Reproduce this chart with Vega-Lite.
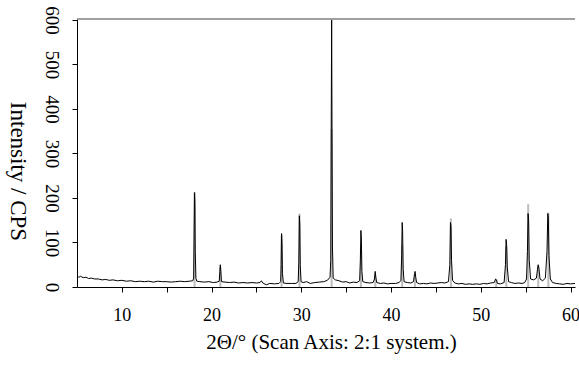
{
  "$schema": "https://vega.github.io/schema/vega-lite/v6.json",
  "width": 498,
  "height": 268,
  "autosize": "none",
  "padding": {"left": 77, "top": 19, "right": 4, "bottom": 78},
  "background": "white",
  "config": {
    "view": {"stroke": null},
    "font": "Liberation Serif",
    "axis": {"grid": false, "domainColor": "black", "tickColor": "black", "labelColor": "black", "titleColor": "black", "labelFont": "Liberation Serif", "titleFont": "Liberation Serif", "titleFontWeight": "normal"}
  },
  "datasets": {
    "scan": [
      {"t": 5.0, "cps": 25}, {"t": 5.2, "cps": 22}, {"t": 5.4, "cps": 24}, {"t": 5.7, "cps": 21}, {"t": 6.0, "cps": 22},
      {"t": 6.3, "cps": 19}, {"t": 6.6, "cps": 20}, {"t": 7.0, "cps": 18}, {"t": 7.4, "cps": 18}, {"t": 7.8, "cps": 16},
      {"t": 8.2, "cps": 17}, {"t": 8.6, "cps": 15}, {"t": 9.0, "cps": 16}, {"t": 9.5, "cps": 14}, {"t": 10.0, "cps": 15},
      {"t": 10.5, "cps": 13}, {"t": 11.0, "cps": 14}, {"t": 11.5, "cps": 12}, {"t": 12.0, "cps": 13}, {"t": 12.5, "cps": 12},
      {"t": 13.0, "cps": 13}, {"t": 13.5, "cps": 11}, {"t": 14.0, "cps": 13}, {"t": 14.5, "cps": 12}, {"t": 15.0, "cps": 12},
      {"t": 15.5, "cps": 11}, {"t": 16.0, "cps": 12}, {"t": 16.5, "cps": 13}, {"t": 17.0, "cps": 12}, {"t": 17.5, "cps": 13},
      {"t": 17.9, "cps": 14}, {"t": 18.0, "cps": 20}, {"t": 18.05, "cps": 120}, {"t": 18.1, "cps": 212}, {"t": 18.14, "cps": 190},
      {"t": 18.18, "cps": 80}, {"t": 18.25, "cps": 20}, {"t": 18.35, "cps": 13}, {"t": 18.7, "cps": 12}, {"t": 19.2, "cps": 11},
      {"t": 19.7, "cps": 12}, {"t": 20.2, "cps": 10}, {"t": 20.6, "cps": 11}, {"t": 20.85, "cps": 13}, {"t": 20.92, "cps": 35},
      {"t": 20.97, "cps": 50}, {"t": 21.02, "cps": 38}, {"t": 21.1, "cps": 12}, {"t": 21.5, "cps": 11}, {"t": 22.0, "cps": 10},
      {"t": 22.5, "cps": 11}, {"t": 23.0, "cps": 9}, {"t": 23.5, "cps": 10}, {"t": 24.0, "cps": 9}, {"t": 24.5, "cps": 10},
      {"t": 25.0, "cps": 9}, {"t": 25.4, "cps": 10}, {"t": 25.55, "cps": 14}, {"t": 25.7, "cps": 9}, {"t": 26.1, "cps": 5},
      {"t": 26.5, "cps": 8}, {"t": 27.0, "cps": 7}, {"t": 27.5, "cps": 8}, {"t": 27.7, "cps": 12}, {"t": 27.75, "cps": 50},
      {"t": 27.8, "cps": 120}, {"t": 27.85, "cps": 95}, {"t": 27.9, "cps": 30}, {"t": 28.0, "cps": 9}, {"t": 28.4, "cps": 8},
      {"t": 28.9, "cps": 8}, {"t": 29.4, "cps": 8}, {"t": 29.65, "cps": 12}, {"t": 29.72, "cps": 55}, {"t": 29.78, "cps": 160},
      {"t": 29.83, "cps": 140}, {"t": 29.88, "cps": 50}, {"t": 29.97, "cps": 12}, {"t": 30.2, "cps": 10}, {"t": 30.6, "cps": 12},
      {"t": 31.0, "cps": 8}, {"t": 31.5, "cps": 10}, {"t": 32.0, "cps": 11}, {"t": 32.5, "cps": 12}, {"t": 32.9, "cps": 15},
      {"t": 33.2, "cps": 22}, {"t": 33.28, "cps": 60}, {"t": 33.33, "cps": 355}, {"t": 33.38, "cps": 600}, {"t": 33.42, "cps": 355},
      {"t": 33.47, "cps": 90}, {"t": 33.55, "cps": 20}, {"t": 33.8, "cps": 16}, {"t": 34.2, "cps": 14}, {"t": 34.6, "cps": 11},
      {"t": 35.0, "cps": 12}, {"t": 35.4, "cps": 9}, {"t": 35.8, "cps": 11}, {"t": 36.2, "cps": 10}, {"t": 36.5, "cps": 14},
      {"t": 36.58, "cps": 60}, {"t": 36.64, "cps": 127}, {"t": 36.69, "cps": 110}, {"t": 36.75, "cps": 35}, {"t": 36.85, "cps": 12},
      {"t": 37.2, "cps": 10}, {"t": 37.6, "cps": 9}, {"t": 38.0, "cps": 10}, {"t": 38.15, "cps": 18}, {"t": 38.23, "cps": 35},
      {"t": 38.3, "cps": 22}, {"t": 38.4, "cps": 10}, {"t": 38.8, "cps": 8}, {"t": 39.2, "cps": 9}, {"t": 39.6, "cps": 7},
      {"t": 40.0, "cps": 8}, {"t": 40.5, "cps": 8}, {"t": 40.9, "cps": 10}, {"t": 41.1, "cps": 15}, {"t": 41.18, "cps": 70},
      {"t": 41.24, "cps": 145}, {"t": 41.29, "cps": 125}, {"t": 41.35, "cps": 40}, {"t": 41.45, "cps": 12}, {"t": 41.8, "cps": 10},
      {"t": 42.2, "cps": 9}, {"t": 42.5, "cps": 12}, {"t": 42.62, "cps": 30}, {"t": 42.68, "cps": 35}, {"t": 42.75, "cps": 22},
      {"t": 42.85, "cps": 10}, {"t": 43.2, "cps": 7}, {"t": 43.6, "cps": 8}, {"t": 44.0, "cps": 7}, {"t": 44.4, "cps": 9},
      {"t": 44.8, "cps": 8}, {"t": 45.2, "cps": 9}, {"t": 45.6, "cps": 10}, {"t": 46.0, "cps": 9}, {"t": 46.4, "cps": 12},
      {"t": 46.55, "cps": 50}, {"t": 46.62, "cps": 145}, {"t": 46.68, "cps": 135}, {"t": 46.74, "cps": 60}, {"t": 46.85, "cps": 15},
      {"t": 47.1, "cps": 9}, {"t": 47.5, "cps": 7}, {"t": 47.9, "cps": 8}, {"t": 48.3, "cps": 6}, {"t": 48.7, "cps": 7},
      {"t": 49.1, "cps": 6}, {"t": 49.5, "cps": 7}, {"t": 49.9, "cps": 6}, {"t": 50.3, "cps": 8}, {"t": 50.7, "cps": 7},
      {"t": 51.1, "cps": 9}, {"t": 51.5, "cps": 10}, {"t": 51.65, "cps": 18}, {"t": 51.75, "cps": 16}, {"t": 51.85, "cps": 8},
      {"t": 52.2, "cps": 7}, {"t": 52.6, "cps": 10}, {"t": 52.75, "cps": 50}, {"t": 52.82, "cps": 107}, {"t": 52.88, "cps": 95},
      {"t": 52.95, "cps": 45}, {"t": 53.1, "cps": 12}, {"t": 53.4, "cps": 10}, {"t": 53.8, "cps": 8}, {"t": 54.2, "cps": 9},
      {"t": 54.6, "cps": 8}, {"t": 54.9, "cps": 10}, {"t": 55.1, "cps": 18}, {"t": 55.2, "cps": 80}, {"t": 55.27, "cps": 165},
      {"t": 55.33, "cps": 150}, {"t": 55.4, "cps": 60}, {"t": 55.55, "cps": 18}, {"t": 55.9, "cps": 16}, {"t": 56.2, "cps": 20},
      {"t": 56.32, "cps": 40}, {"t": 56.4, "cps": 50}, {"t": 56.48, "cps": 42}, {"t": 56.6, "cps": 18}, {"t": 56.9, "cps": 14},
      {"t": 57.2, "cps": 20}, {"t": 57.38, "cps": 80}, {"t": 57.47, "cps": 165}, {"t": 57.53, "cps": 155}, {"t": 57.6, "cps": 70},
      {"t": 57.75, "cps": 18}, {"t": 58.0, "cps": 10}, {"t": 58.4, "cps": 8}, {"t": 58.8, "cps": 7}, {"t": 59.2, "cps": 6},
      {"t": 59.6, "cps": 8}, {"t": 60.0, "cps": 7}, {"t": 60.5, "cps": 8}
    ],
    "sticks": [
      {"t": 18.1, "h": 213, "b": 0}, {"t": 20.97, "h": 45, "b": 0}, {"t": 27.8, "h": 115, "b": 0}, {"t": 29.8, "h": 165, "b": 0},
      {"t": 33.38, "h": 355, "b": 0}, {"t": 36.64, "h": 90, "b": 0}, {"t": 38.24, "h": 28, "b": 0}, {"t": 41.24, "h": 95, "b": 0},
      {"t": 42.66, "h": 30, "b": 0}, {"t": 46.67, "h": 154, "b": 0}, {"t": 51.72, "h": 18, "b": 0}, {"t": 52.85, "h": 90, "b": 0},
      {"t": 55.28, "h": 186, "b": 0}, {"t": 56.4, "h": 48, "b": 0}, {"t": 57.53, "h": 167, "b": 0}
    ],
    "frame": [{"top": 602}]
  },
  "layer": [
    {
      "data": {"name": "sticks"},
      "mark": {"type": "rule", "color": "#bdbdbd", "strokeWidth": 2},
      "encoding": {
        "x": {"field": "t", "type": "quantitative"},
        "y": {"field": "h", "type": "quantitative"},
        "y2": {"field": "b"}
      }
    },
    {
      "data": {"name": "scan"},
      "mark": {"type": "line", "color": "black", "strokeWidth": 1, "clip": true},
      "encoding": {
        "x": {
          "field": "t", "type": "quantitative",
          "scale": {"domain": [5, 60.5], "nice": false, "zero": false},
          "axis": {
            "values": [10, 15, 20, 25, 30, 35, 40, 45, 50, 55, 60],
            "labelExpr": "datum.value % 10 === 0 ? datum.label : ''",
            "tickSize": 5,
            "encode": {"ticks": {"update": {"y2": {"signal": "datum.value % 10 === 0 ? 5 : 3"}}}},
            "labelFont": "Liberation Serif",
            "labelFontSize": 18, "labelPadding": 14, "labelFlush": false,
            "title": "2Θ/° (Scan Axis: 2:1 system.)", "titleFontSize": 21, "titleFont": "Liberation Serif",
            "titleX": 254, "titleY": 61, "titleBaseline": "alphabetic", "titleAlign": "center"
          }
        },
        "y": {
          "field": "cps", "type": "quantitative",
          "scale": {"domain": [0, 602], "nice": false},
          "axis": {
            "values": [0, 50, 100, 150, 200, 250, 300, 350, 400, 450, 500, 550, 600],
            "labelExpr": "datum.value % 100 === 0 ? datum.label : ''",
            "tickSize": 5,
            "encode": {"ticks": {"update": {"x2": {"signal": "datum.value % 100 === 0 ? -5 : -3"}}}},
            "labelAngle": 90, "labelAlign": "center", "labelBaseline": "alphabetic",
            "labelFont": "Liberation Serif",
            "labelFontSize": 19, "labelPadding": 27, "labelFlush": false,
            "title": "Intensity / CPS", "titleFontSize": 23, "titleAngle": 90, "titleFont": "Liberation Serif",
            "titleX": -67, "titleY": 152, "titleAlign": "center", "titleBaseline": "alphabetic"
          }
        }
      }
    },
    {
      "data": {"name": "frame"},
      "mark": {"type": "rule", "color": "#808080", "strokeWidth": 1.5},
      "encoding": {"y": {"field": "top", "type": "quantitative"}}
    }
  ]
}
